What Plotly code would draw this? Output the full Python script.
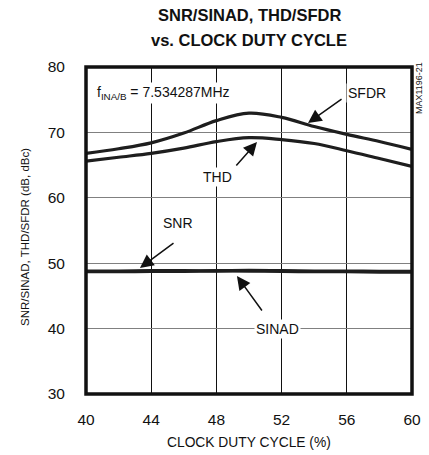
import plotly.graph_objects as go

# ---- data ----
duty = [40, 42, 44, 46, 48, 50, 52, 54, 56, 58, 60]
sfdr = [66.8, 67.5, 68.4, 69.9, 71.8, 72.95, 72.3, 70.9, 69.7, 68.6, 67.4]
thd = [65.6, 66.2, 66.8, 67.6, 68.6, 69.2, 68.9, 68.3, 67.2, 66.0, 64.8]
snr = [48.8, 48.8, 48.85, 48.85, 48.85, 48.9, 48.85, 48.8, 48.8, 48.75, 48.75]
sinad = [48.7, 48.7, 48.75, 48.75, 48.8, 48.8, 48.75, 48.7, 48.7, 48.65, 48.65]
x_ticks = [40, 44, 48, 52, 56, 60]
y_ticks = [30, 40, 50, 60, 70, 80]

FONT = "Liberation Sans, Arial, sans-serif"
INK = "#111"
LINE = "#1e1e1e"

fig = go.Figure()
for name, ys in [("SFDR", sfdr), ("THD", thd), ("SNR", snr), ("SINAD", sinad)]:
    fig.add_trace(go.Scatter(x=duty, y=ys, mode="lines", name=name,
                             line=dict(color=LINE, width=3.2, shape="spline", smoothing=1.0),
                             showlegend=False, hoverinfo="skip"))

fig.update_layout(
    width=429, height=455,
    margin=dict(l=86, r=17, t=67, b=61),
    paper_bgcolor="white", plot_bgcolor="white",
    font=dict(family=FONT, size=15, color=INK),
    xaxis=dict(range=[40, 60], tickvals=x_ticks, ticktext=[str(v) for v in x_ticks],
               showgrid=True, gridcolor=INK, gridwidth=1, zeroline=False, automargin=False,
               ticks="outside", ticklen=11, tickcolor="rgba(0,0,0,0)",
               tickfont=dict(size=15.5), showline=False, fixedrange=True),
    yaxis=dict(range=[30, 80], tickvals=y_ticks, ticktext=[str(v) for v in y_ticks],
               showgrid=True, gridcolor="#808080", gridwidth=1, zeroline=False, automargin=False,
               ticks="outside", ticklen=17, tickcolor="rgba(0,0,0,0)",
               tickfont=dict(size=15.5), showline=False, fixedrange=True),
)

# frame
fig.add_shape(type="rect", xref="paper", yref="paper", x0=0, y0=0, x1=1, y1=1,
              line=dict(color=INK, width=3.5), layer="above")

ann = []
# titles
ann.append(dict(text="<b>SNR/SINAD, THD/SFDR</b>", xref="paper", yref="paper",
                x=0.5, y=1, yshift=52, yanchor="middle", xanchor="center", showarrow=False,
                font=dict(size=16.5, family=FONT, color=INK)))
ann.append(dict(text="<b>vs. CLOCK DUTY CYCLE</b>", xref="paper", yref="paper",
                x=0.5, y=1, yshift=27, yanchor="middle", xanchor="center", showarrow=False,
                font=dict(size=16.5, family=FONT, color=INK)))
# axis titles
ann.append(dict(text="CLOCK DUTY CYCLE (%)", xref="paper", yref="paper", x=0.5, y=0,
                yshift=-48, yanchor="middle", xanchor="center", showarrow=False,
                font=dict(size=13.8, family=FONT, color=INK)))
ann.append(dict(text="SNR/SINAD, THD/SFDR (dB, dBc)", xref="paper", yref="y", x=0, y=54,
                xshift=-61, xanchor="center", yanchor="middle", textangle=-90, showarrow=False,
                font=dict(size=11.5, family=FONT, color=INK)))
ann.append(dict(text="MAX1196-21", xref="paper", yref="paper", x=1, y=1, xshift=7, yshift=-21,
                xanchor="center", yanchor="middle", textangle=-90, showarrow=False,
                font=dict(size=9, family=FONT, color=INK)))
# labels inside plot
ann.append(dict(text="f<sub>INA/B</sub> = 7.534287MHz", x=40.55, y=76.0, xanchor="left",
                yanchor="middle", showarrow=False, bgcolor="white",
                font=dict(size=14, family=FONT, color=INK)))
for t, xx, yy in [("SFDR", 57.24, 76.0), ("THD", 48.04, 63.2), ("SNR", 45.64, 56.15), ("SINAD", 51.72, 40.0)]:
    ann.append(dict(text=t, x=xx, y=yy, xanchor="center", yanchor="middle", showarrow=False,
                    bgcolor="white", font=dict(size=14, family=FONT, color=INK)))
# arrows
for hx, hy, tx, ty in [(53.62, 71.44, 55.77, 75.26), (50.49, 68.53, 49.14, 64.71),
                       (43.31, 49.27, 45.46, 53.24), (49.26, 48.04, 50.86, 42.54)]:
    ann.append(dict(text="", x=hx, y=hy, ax=tx, ay=ty, axref="x", ayref="y",
                    showarrow=True, arrowhead=2, arrowsize=1.8, arrowwidth=1.5,
                    arrowcolor=INK, standoff=0, startstandoff=0))
fig.update_layout(annotations=ann)

# remove the default 8px page margin so the 429x455 figure fills the window
fig.write_html("out.html", config={"displayModeBar": False},
               post_script="document.body.style.margin='0';")
